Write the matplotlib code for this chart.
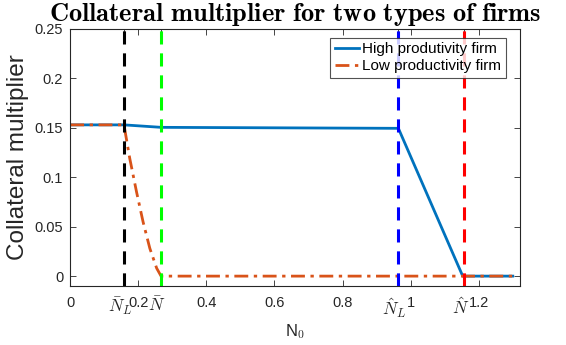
import matplotlib
matplotlib.use("Agg")
import matplotlib.pyplot as plt
import matplotlib.transforms as mtransforms
import numpy as np

plt.rcParams['font.family'] = ['Liberation Sans', 'DejaVu Sans']
plt.rcParams['mathtext.fontset'] = 'cm'

# thresholds (vertical lines)
n_bar_L = 0.158
n_bar = 0.267
n_hat_L = 0.964
n_hat = 1.158

# collateral multiplier, high productivity firm
high_x = [0.0, 0.158, 0.267, 0.964, 1.153, 1.30]
high_y = [0.153, 0.153, 0.1505, 0.1495, 0.0, 0.0]
# low productivity firm
low_x = [0.0, 0.158, 0.175, 0.195, 0.214, 0.234, 0.254, 0.267, 1.30]
low_y = [0.153, 0.153, 0.119, 0.085, 0.055, 0.028, 0.008, 0.0, 0.0]

xticks = [0, n_bar_L, 0.2, n_bar, 0.4, 0.6, 0.8, n_hat_L, 1.0, n_hat, 1.2]
xticklabels = ['0', r'$\bar{N}_L$', '0.2', r'$\bar{N}$', '0.4', '0.6', '0.8',
               r'$\hat{N}_L$', '1', r'$\hat{N}$', '1.2']
yticks = [0, 0.05, 0.1, 0.15, 0.2, 0.25]
yticklabels = ['0', '0.05', '0.1', '0.15', '0.2', '0.25']

blue = (0, 0.447, 0.741)
orange = (0.85, 0.325, 0.098)
axcol = (0.15, 0.15, 0.15)

fig = plt.figure(figsize=(5.66, 3.45), dpi=100)
ax = fig.add_axes([0.124, 0.171, 0.794, 0.745])

ax.plot(high_x, high_y, color=blue, lw=2, label='High produtivity firm')
ax.plot(low_x, low_y, color=orange, lw=2, ls=(0, (5, 2, 1.2, 2)),
        label='Low productivity firm')

for xv, c in [(n_bar_L, 'black'), (n_bar, (0, 1, 0)), (n_hat_L, (0, 0, 1)), (n_hat, (1, 0, 0))]:
    ax.axvline(xv, color=c, lw=2.2, ls=(0, (4.3, 2.9)))

ax.set_xlim(0, 1.32)
ax.set_ylim(-0.01, 0.25)
ax.set_xticks(xticks)
ax.set_xticklabels(xticklabels)
ax.set_yticks(yticks)
ax.set_yticklabels(yticklabels)
ax.tick_params(axis='y', labelsize=10.5)
ax.tick_params(direction='in', top=True, right=True, length=4, width=0.6,
               colors=axcol, pad=7)
ax.tick_params(axis='y', pad=5)
for s in ax.spines.values():
    s.set_color(axcol)
    s.set_linewidth(0.8)

# math labels sit a little left of their ticks, as in the original
shift = mtransforms.ScaledTranslation(-4 / 100, 0, fig.dpi_scale_trans)
for tick in ax.xaxis.get_major_ticks():
    lab = tick.label1
    if lab.get_text().startswith('$'):
        lab.set_fontsize(12.5)
        lab.set_transform(lab.get_transform() + shift)
    else:
        lab.set_fontsize(10.5)

ax.set_xlabel(r'N$_\mathsf{0}$', fontsize=12, color=axcol, labelpad=2)
ax.set_ylabel('Collateral multiplier', fontsize=17.5, color=axcol, labelpad=4)
ax.set_title(r'$\mathbf{Collateral\ multiplier\ for\ two\ types\ of\ firms}$',
             fontsize=19, pad=6)

leg = ax.legend(loc='upper left', bbox_to_anchor=(330 / 566, 1 - 37.5 / 345),
                bbox_transform=fig.transFigure, fontsize=11, frameon=True,
                fancybox=False, edgecolor=axcol, handlelength=1.6,
                borderpad=0.3, labelspacing=0.2, handletextpad=0.2,
                borderaxespad=0)
leg.get_frame().set_linewidth(0.8)

fig.savefig('out.png', dpi=100)
